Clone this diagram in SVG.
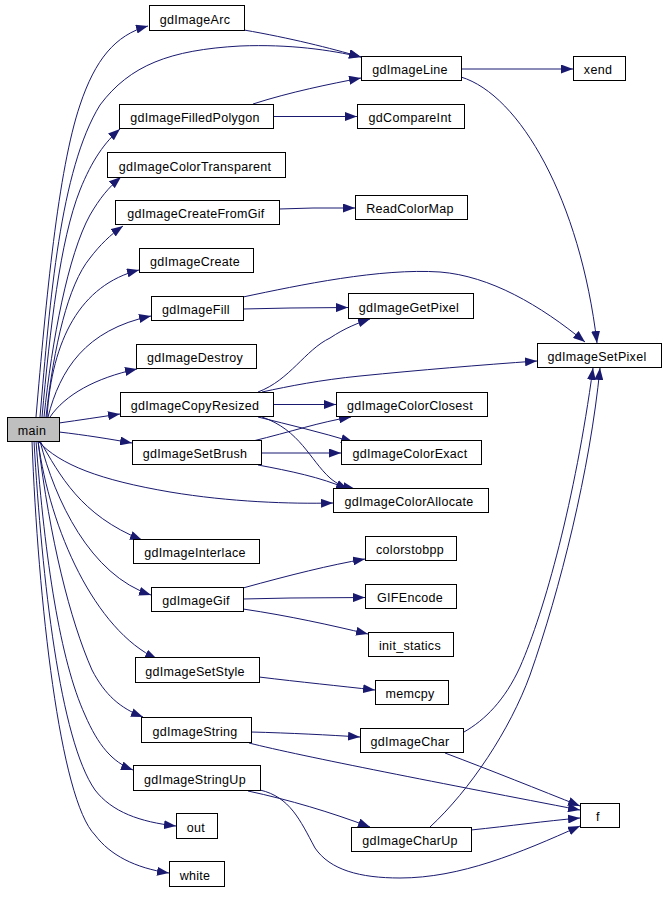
<svg xmlns="http://www.w3.org/2000/svg" width="666" height="906" viewBox="0 0 666 906">
<defs>
<marker id="ah" markerUnits="userSpaceOnUse" markerWidth="12" markerHeight="9" viewBox="0 0 12 9" refX="12" refY="4.5" orient="auto">
<path d="M0,0 L12,4.5 L0,9 z" fill="#191970"/>
</marker>
<style>
rect{fill:#ffffff;stroke:#000000;stroke-width:1}
#main rect{fill:#bfbfbf}
text{font-family:"Liberation Sans",Arial,sans-serif;font-size:12.5px;letter-spacing:0.3px;text-anchor:middle;fill:#000000}
#edges path{fill:none;stroke:#191970;stroke-width:1;marker-end:url(#ah)}
</style>
</defs>
<rect x="0" y="0" width="666" height="906" style="fill:#ffffff;stroke:none"/>
<g id="edges">
<path d="M36,417 C46,300 58,170 80,105 C95,60 115,35 148,26"/>
<path d="M40,417 C50,300 60,170 100,105 C130,65 170,50 240,46 C290,44 330,50 361,57"/>
<path d="M42,417 C50,330 60,240 80,190 C92,160 105,142 120,129"/>
<path d="M44,417 C52,340 68,255 90,215 C100,198 108,188 121,177"/>
<path d="M46,417 C54,345 68,285 90,258 C100,245 110,235 123,226"/>
<path d="M47,417 C52,340 80,285 139,270"/>
<path d="M48,417 C60,370 85,330 151,316"/>
<path d="M50,417 C65,395 95,378 137,369"/>
<path d="M59,423 C80,420 100,417 120,414"/>
<path d="M59,432 C85,435 110,439 132,443"/>
<path d="M38,441 C60,465 100,480 170,492 C230,502 290,504 333,503"/>
<path d="M40,441 C60,475 80,515 142,540"/>
<path d="M40,441 C55,500 90,575 151,595"/>
<path d="M38,441 C50,530 95,630 157,659"/>
<path d="M38,441 C50,540 70,620 92,670 C105,695 120,708 143,717"/>
<path d="M36,441 C45,560 60,660 85,715 C98,745 112,762 133,770"/>
<path d="M34,441 C42,580 60,740 95,790 C112,812 140,822 176,826"/>
<path d="M32,441 C38,600 60,800 95,835 C110,855 135,868 169,873"/>
<path d="M244,30 C290,38 330,48 361,57"/>
<path d="M253,104 C290,92 330,84 361,78"/>
<path d="M273,116.5 L357,116.5"/>
<path d="M461,69 L573,69"/>
<path d="M461,77 C520,95 580,200 597,343"/>
<path d="M279,209 L313,208 L355,208"/>
<path d="M243,309 L290,308 L348,307.5"/>
<path d="M243,297 C300,285 380,268 440,272 C490,276 540,305 585,342"/>
<path d="M258,392 C290,380 305,350 330,338 C345,328 358,323 370,319"/>
<path d="M262,392 C290,386 320,380 360,376 C420,370 480,365 537,361"/>
<path d="M273,404.5 L336,404.5"/>
<path d="M258,417 C290,425 320,432 353,442"/>
<path d="M262,417 C300,430 310,460 330,478 C338,485 345,487 355,489"/>
<path d="M253,441 C290,432 320,422 351,417"/>
<path d="M261,453 L341,453"/>
<path d="M258,465 C290,471 320,477 348,489"/>
<path d="M243,588 C290,575 330,565 365,559"/>
<path d="M243,599 L290,598 L365,597.5"/>
<path d="M243,609 C290,616 330,625 368,634"/>
<path d="M259,677 C300,682 340,686 375,690"/>
<path d="M251,732 C290,733 330,735 360,737"/>
<path d="M249,743 C300,756 450,785 580,810"/>
<path d="M464,732 C485,720 505,700 520,667 C545,610 575,500 593,368"/>
<path d="M430,827 C470,790 510,730 530,675 C560,590 590,470 600,368"/>
<path d="M445,753 C490,770 540,790 580,806"/>
<path d="M248,791 C290,800 330,812 370,827"/>
<path d="M260,790 C290,797 300,820 315,848 C330,870 360,878 400,878 C460,878 520,853 580,826"/>
<path d="M471,830 C510,826 545,821 580,818"/>
</g>
<g id="main"><rect x="7.5" y="417.5" width="52" height="24"/><text x="32" y="435">main</text></g>
<g id="gdImageArc"><rect x="149.5" y="5.5" width="95" height="25"/><text x="195" y="23.5">gdImageArc</text></g>
<g id="gdImageFilledPolygon"><rect x="119.5" y="104.5" width="154" height="24"/><text x="195" y="122">gdImageFilledPolygon</text></g>
<g id="gdImageColorTransparent"><rect x="107.5" y="152.5" width="178" height="25"/><text x="195" y="170.5">gdImageColorTransparent</text></g>
<g id="gdImageCreateFromGif"><rect x="115.5" y="200.5" width="164" height="24"/><text x="196" y="218">gdImageCreateFromGif</text></g>
<g id="gdImageCreate"><rect x="139.5" y="248.5" width="114" height="24"/><text x="195" y="266">gdImageCreate</text></g>
<g id="gdImageFill"><rect x="151.5" y="296.5" width="92" height="24"/><text x="196" y="314">gdImageFill</text></g>
<g id="gdImageDestroy"><rect x="136.5" y="344.5" width="120" height="24"/><text x="195" y="362">gdImageDestroy</text></g>
<g id="gdImageCopyResized"><rect x="120.5" y="392.5" width="153" height="24"/><text x="195" y="410">gdImageCopyResized</text></g>
<g id="gdImageSetBrush"><rect x="132.5" y="440.5" width="129" height="24"/><text x="195" y="458">gdImageSetBrush</text></g>
<g id="gdImageInterlace"><rect x="133.5" y="539.5" width="126" height="24"/><text x="195" y="557">gdImageInterlace</text></g>
<g id="gdImageGif"><rect x="151.5" y="587.5" width="92" height="24"/><text x="196" y="605">gdImageGif</text></g>
<g id="gdImageSetStyle"><rect x="135.5" y="657.5" width="124" height="25"/><text x="195" y="675.5">gdImageSetStyle</text></g>
<g id="gdImageString"><rect x="141.5" y="717.5" width="110" height="25"/><text x="195" y="735.5">gdImageString</text></g>
<g id="gdImageStringUp"><rect x="133.5" y="765.5" width="127" height="25"/><text x="195" y="783.5">gdImageStringUp</text></g>
<g id="out"><rect x="176.5" y="813.5" width="41" height="25"/><text x="196" y="831.5">out</text></g>
<g id="white"><rect x="169.5" y="861.5" width="55" height="25"/><text x="195" y="879.5">white</text></g>
<g id="gdImageLine"><rect x="361.5" y="56.5" width="100" height="24"/><text x="410" y="74">gdImageLine</text></g>
<g id="xend"><rect x="573.5" y="56.5" width="52" height="24"/><text x="598" y="74">xend</text></g>
<g id="gdCompareInt"><rect x="357.5" y="104.5" width="107" height="24"/><text x="410" y="122">gdCompareInt</text></g>
<g id="ReadColorMap"><rect x="355.5" y="195.5" width="112" height="24"/><text x="410" y="213">ReadColorMap</text></g>
<g id="gdImageGetPixel"><rect x="348.5" y="293.5" width="125" height="25"/><text x="409" y="311.5">gdImageGetPixel</text></g>
<g id="gdImageSetPixel"><rect x="537.5" y="343.5" width="124" height="24"/><text x="597" y="361">gdImageSetPixel</text></g>
<g id="gdImageColorClosest"><rect x="336.5" y="392.5" width="151" height="24"/><text x="410" y="410">gdImageColorClosest</text></g>
<g id="gdImageColorExact"><rect x="341.5" y="440.5" width="140" height="24"/><text x="410" y="458">gdImageColorExact</text></g>
<g id="gdImageColorAllocate"><rect x="333.5" y="488.5" width="155" height="24"/><text x="409" y="506">gdImageColorAllocate</text></g>
<g id="colorstobpp"><rect x="365.5" y="536.5" width="91" height="24"/><text x="410" y="554">colorstobpp</text></g>
<g id="GIFEncode"><rect x="365.5" y="584.5" width="91" height="24"/><text x="410" y="602">GIFEncode</text></g>
<g id="init_statics"><rect x="368.5" y="632.5" width="85" height="24"/><text x="410" y="650">init_statics</text></g>
<g id="memcpy"><rect x="375.5" y="680.5" width="73" height="24"/><text x="410" y="698">memcpy</text></g>
<g id="gdImageChar"><rect x="360.5" y="728.5" width="103" height="24"/><text x="410" y="746">gdImageChar</text></g>
<g id="gdImageCharUp"><rect x="351.5" y="827.5" width="120" height="24"/><text x="410" y="845">gdImageCharUp</text></g>
<g id="f"><rect x="580.5" y="803.5" width="39" height="24"/><text x="598" y="821">f</text></g>
</svg>
